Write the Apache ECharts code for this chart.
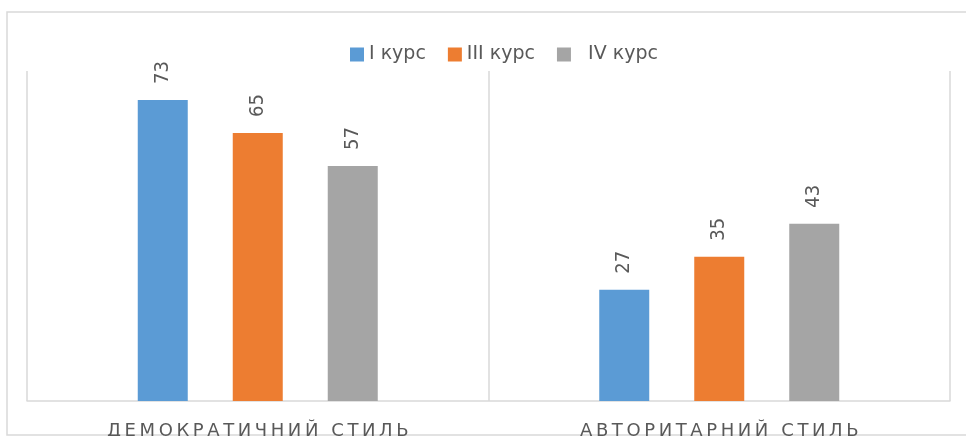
<!DOCTYPE html>
<html>
<head>
<meta charset="utf-8">
<script src="https://cdn.jsdelivr.net/npm/echarts@6/dist/echarts.min.js"></script>
<style>
  html, body { margin: 0; padding: 0; background: #fff; }
  #chart { width: 966px; height: 436px; }
</style>
</head>
<body>
<div id="chart"></div>
<script>
// Leadership styles by year of study, %
const categories = ['ДЕМОКРАТИЧНИЙ СТИЛЬ', 'АВТОРИТАРНИЙ СТИЛЬ'];
const seriesNames = ['I курс', 'III курс', '  IV курс'];
const course1 = [73, 27];
const course3 = [65, 35];
const course4 = [57, 43];
const colors = ['#5B9BD5', '#ED7D31', '#A5A5A5'];

const gridColor = '#d9d9d9';
const textColor = '#595959';

// spread letters of the category captions
const spaced = s => s.split('').join('\u2009');

const valueLabel = {
  show: true,
  position: 'top',
  rotate: 90,
  align: 'left',
  verticalAlign: 'middle',
  distance: 16,
  color: textColor,
  fontFamily: '"Liberation Sans Narrow", "DejaVu Sans Condensed", sans-serif',
  fontSize: 20
};

const values = [course1, course3, course4];

const chart = echarts.init(document.getElementById('chart'), null, { renderer: 'canvas' });
chart.setOption({
  animation: false,
  color: colors,
  graphic: [{
    type: 'rect',
    shape: { x: 7, y: 12, width: 990, height: 423 },
    style: { fill: 'none', stroke: gridColor, lineWidth: 1.5 },
    silent: true
  }],
  legend: {
    left: 345,
    top: 40,
    itemWidth: 14,
    itemHeight: 14,
    itemGap: 22,
    icon: 'rect',
    textStyle: { color: textColor, fontFamily: '"DejaVu Sans", sans-serif', fontSize: 19 },
    data: seriesNames
  },
  grid: {
    left: 27, right: 16, top: 71, bottom: 35,
    containLabel: false,
    outerBoundsMode: 'none'
  },
  xAxis: {
    type: 'category',
    data: categories,
    axisLine: { show: true, lineStyle: { color: gridColor, width: 1.5 } },
    axisTick: { show: false },
    splitLine: { show: true, interval: 0, lineStyle: { color: gridColor, width: 1.5 } },
    axisLabel: {
      margin: 21,
      color: textColor,
      fontFamily: '"DejaVu Sans", sans-serif',
      fontSize: 18,
      formatter: spaced
    }
  },
  yAxis: {
    type: 'value',
    min: 0,
    max: 80,
    interval: 10,
    axisLine: { show: false },
    axisTick: { show: false },
    axisLabel: { show: false },
    splitLine: { show: false }
  },
  series: seriesNames.map((name, i) => ({
    name: name,
    type: 'bar',
    barWidth: 50,
    barGap: '90%',
    data: values[i],
    label: valueLabel
  }))
});
</script>
</body>
</html>
